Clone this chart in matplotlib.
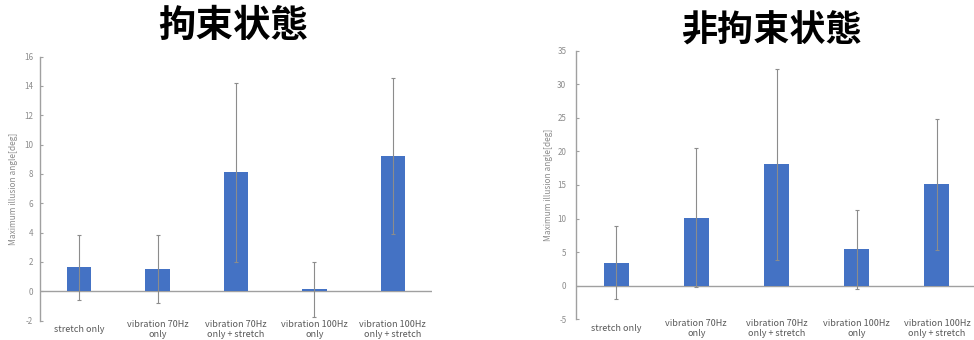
import matplotlib
matplotlib.use("Agg")
import matplotlib.pyplot as plt
import numpy as np

plt.rcParams['font.family'] = ['Noto Sans CJK JP', 'DejaVu Sans']

categories = ["stretch only", "vibration 70Hz\nonly", "vibration 70Hz\nonly + stretch",
              "vibration 100Hz\nonly", "vibration 100Hz\nonly + stretch"]

# 拘束状態 (restrained)
restrained_mean = [1.62, 1.52, 8.10, 0.13, 9.20]
restrained_sd = [2.22, 2.32, 6.08, 1.87, 5.32]
restrained_ticks = [-2, 0, 2, 4, 6, 8, 10, 12, 14, 16]

# 非拘束状態 (unrestrained)
free_mean = [3.45, 10.15, 18.10, 5.45, 15.10]
free_sd = [5.42, 10.30, 14.20, 5.90, 9.80]
free_ticks = [-5, 0, 5, 10, 15, 20, 25, 30, 35]

titles = ["拘束状態", "非拘束状態"]
ylabel = "Maximum illusion angle[deg]"

W, H = 974, 340
fig = plt.figure(figsize=(W / 100, H / 100), dpi=100)

bar_color = "#4472C4"
axis_color = "#A0A0A0"
err_color = "#8C8C8C"
tick_color = "#8C8C8C"
label_color = "#595959"


def make_panel(rect, means, sds, ticks, ylabel_pad, tick_pad, xpad):
    ax = fig.add_axes(rect)
    x = np.arange(len(categories))
    ax.bar(x, means, width=0.31, color=bar_color, zorder=2)
    ax.errorbar(x, means, yerr=sds, fmt='none', ecolor=err_color, elinewidth=0.8,
                capsize=1.6, capthick=0.8, zorder=3)
    ax.set_xlim(-0.5, len(categories) - 0.5)
    ax.set_ylim(ticks[0], ticks[-1])
    ax.set_yticks(ticks)
    ax.set_yticklabels([str(t) for t in ticks])
    ax.axhline(0, color=axis_color, lw=1.0, zorder=1)
    for s in ["top", "right", "bottom"]:
        ax.spines[s].set_visible(False)
    ax.spines["left"].set_color(axis_color)
    ax.spines["left"].set_linewidth(1.0)
    ax.tick_params(axis='y', direction='in', length=2, width=0.8, color=axis_color,
                   labelsize=5.8, labelcolor=tick_color, pad=tick_pad)
    ax.set_xticks(x)
    ax.set_xticklabels(categories, fontsize=6.5, color=label_color, linespacing=1.1,
                       va='center')
    ax.tick_params(axis='x', length=0, pad=xpad)
    ax.set_ylabel(ylabel, fontsize=6, color=tick_color, labelpad=ylabel_pad)
    return ax


ax1 = make_panel([40 / W, (H - 320.5) / H, 392 / W, 264 / H],
                 restrained_mean, restrained_sd, restrained_ticks, 4, 5, 6.5)
ax2 = make_panel([576 / W, (H - 319.3) / H, 401 / W, 268.6 / H],
                 free_mean, free_sd, free_ticks, 3, 7, 6.5)

fig.text(233 / W, 1 - 25 / H, titles[0], ha='center', va='center', fontsize=27,
         fontweight='bold', color='black')
fig.text(771 / W, 1 - 31 / H, titles[1], ha='center', va='center', fontsize=26,
         fontweight='bold', color='black')

fig.savefig("out.png", dpi=100, facecolor='white')
